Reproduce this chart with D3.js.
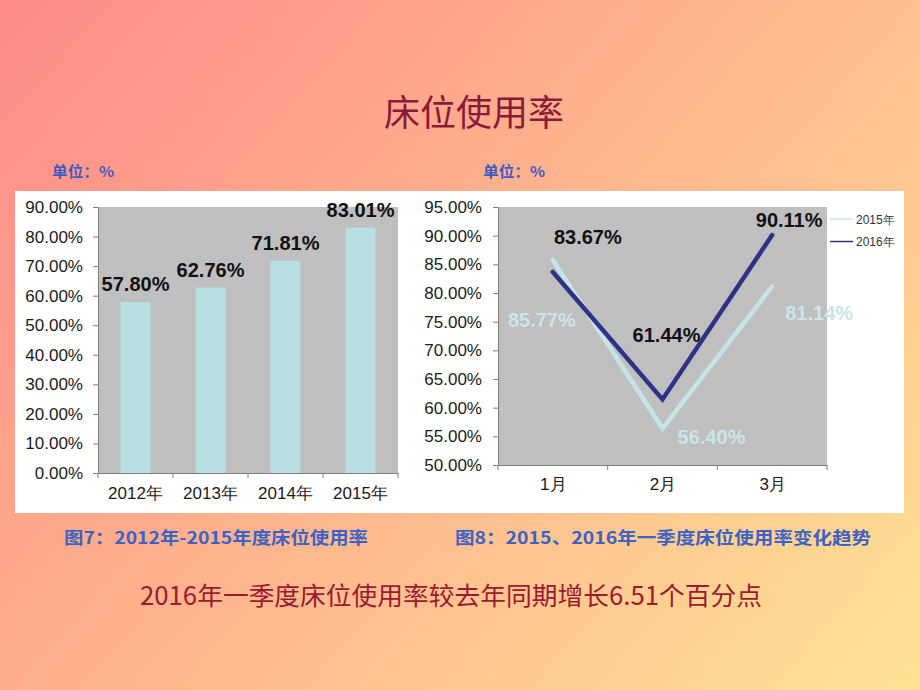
<!DOCTYPE html>
<html><head><meta charset="utf-8">
<script src="https://cdn.jsdelivr.net/npm/d3@7"></script>
<style>body{margin:0;}svg{display:block;}</style>
</head><body>
<svg id="c" width="920" height="690"></svg>
<script>
// ---- data ----
const barYears = ["2012年", "2013年", "2014年", "2015年"];
const barValues = [0.5780, 0.6276, 0.7181, 0.8301];
const barTicks = [0, 0.1, 0.2, 0.3, 0.4, 0.5, 0.6, 0.7, 0.8, 0.9];

const months = ["1月", "2月", "3月"];
const seriesNames = ["2015年", "2016年"];
const values2015 = [0.8577, 0.5640, 0.8114];
const values2016 = [0.8367, 0.6144, 0.9011];
const lineTicks = [0.5, 0.55, 0.6, 0.65, 0.7, 0.75, 0.8, 0.85, 0.9, 0.95];

const titleText = "床位使用率";
const unitText = "单位：%";
const caption1 = "图7：2012年-2015年度床位使用率";
const caption2 = "图8：2015、2016年一季度床位使用率变化趋势";
const footText = "2016年一季度床位使用率较去年同期增长6.51个百分点";

// ---- drawing ----
const svg = d3.select("#c");
const fmt = d3.format(".2%");
const NUM = "'Liberation Sans', Arial, sans-serif";
const CJK = "'Noto Sans CJK SC', 'Noto Sans', sans-serif";

const defs = svg.append("defs");
const g = defs.append("linearGradient").attr("id","bg")
  .attr("gradientUnits","userSpaceOnUse")
  .attr("x1",0).attr("y1",0).attr("x2",857).attr("y2",762);
g.append("stop").attr("offset",0).attr("stop-color","#ff8a88");
g.append("stop").attr("offset",1).attr("stop-color","#ffe294");
svg.append("rect").attr("width",920).attr("height",690).attr("fill","url(#bg)");

// title
svg.append("text").attr("x",474).attr("y",126).attr("text-anchor","middle")
  .attr("font-family",CJK).attr("font-size",36).attr("fill","#8a1a3a").text(titleText);

// unit labels
[52, 483].forEach(x => {
  svg.append("text").attr("x",x).attr("y",176.5)
    .attr("font-family",CJK).attr("font-size",15).attr("font-weight","bold")
    .attr("fill","#3d5bc4").attr("textLength",62).attr("lengthAdjust","spacingAndGlyphs")
    .text(unitText);
});

// white panel
svg.append("rect").attr("x",15).attr("y",191).attr("width",889).attr("height",322).attr("fill","#ffffff");

// ---------- bar chart ----------
const L = {x0:98, x1:398, y0:207, y1:473};
const xb = d3.scaleBand().domain(barYears).range([L.x0, L.x1]).paddingInner(0.6).paddingOuter(0.3);
const yb = d3.scaleLinear().domain([0, 0.9]).range([L.y1, L.y0]);
svg.append("rect").attr("x",L.x0).attr("y",L.y0).attr("width",L.x1-L.x0).attr("height",L.y1-L.y0).attr("fill","#bfbfbf");

svg.selectAll(".bar").data(barValues).enter().append("rect")
  .attr("x",(d,i)=>xb(barYears[i])).attr("width",xb.bandwidth())
  .attr("y",d=>yb(d)).attr("height",d=>yb(0)-yb(d)).attr("fill","#b8dfe2");

svg.selectAll(".blab").data(barValues).enter().append("text")
  .attr("x",(d,i)=>xb(barYears[i])+xb.bandwidth()/2).attr("y",d=>yb(d)-11)
  .attr("text-anchor","middle").attr("font-family",NUM).attr("font-weight","bold")
  .attr("font-size",20).attr("fill","#111").text(d=>fmt(d));

const yAxL = svg.append("g").attr("transform",`translate(${L.x0},0)`)
  .call(d3.axisLeft(yb).tickValues(barTicks).tickFormat(fmt).tickSize(5).tickPadding(10).tickSizeOuter(0));
const xAxL = svg.append("g").attr("transform",`translate(0,${L.y1})`)
  .call(d3.axisBottom(xb).tickSize(0).tickPadding(14).tickSizeOuter(0));
// category boundary ticks
const stepL = xb.step();
svg.append("g").selectAll("line").data(d3.range(barYears.length+1)).enter().append("line")
  .attr("x1",i=>L.x0+i*stepL).attr("x2",i=>L.x0+i*stepL)
  .attr("y1",L.y1).attr("y2",L.y1+5).attr("stroke","#7f7f7f");

// ---------- line chart ----------
const R = {x0:498, x1:827, y0:207, y1:465};
const xl = d3.scalePoint().domain(months).range([R.x0, R.x1]).padding(0.5);
const yl = d3.scaleLinear().domain([0.5, 0.95]).range([R.y1, R.y0]);
svg.append("rect").attr("x",R.x0).attr("y",R.y0).attr("width",R.x1-R.x0).attr("height",R.y1-R.y0).attr("fill","#bfbfbf");

const line = d3.line().x((d,i)=>xl(months[i])).y(d=>yl(d));
const colors = ["#c6e4e7", "#2f3287"];
const series = [values2015, values2016];
series.forEach((s,k)=>{
  svg.append("path").datum(s).attr("d",line).attr("fill","none")
    .attr("stroke",colors[k]).attr("stroke-width",4.5)
    .attr("stroke-linejoin","miter").attr("stroke-linecap","round");
});

const yAxR = svg.append("g").attr("transform",`translate(${R.x0},0)`)
  .call(d3.axisLeft(yl).tickValues(lineTicks).tickFormat(fmt).tickSize(5).tickPadding(11).tickSizeOuter(0));
const xAxR = svg.append("g").attr("transform",`translate(0,${R.y1})`)
  .call(d3.axisBottom(xl).tickSize(0).tickPadding(13).tickSizeOuter(0));
const stepR = xl.step();
svg.append("g").selectAll("line").data(d3.range(months.length+1)).enter().append("line")
  .attr("x1",i=>R.x0+i*stepR).attr("x2",i=>R.x0+i*stepR)
  .attr("y1",R.y1).attr("y2",R.y1+5).attr("stroke","#7f7f7f");

// data labels (offsets are label placement only)
const off2016 = [[35,-28],[4,-57],[17,-8]];
const off2015 = [[-11,67],[49,16],[47,34]];
svg.selectAll(".l15").data(values2015).enter().append("text")
  .attr("x",(d,i)=>xl(months[i])+off2015[i][0]).attr("y",(d,i)=>yl(d)+off2015[i][1])
  .attr("text-anchor","middle").attr("font-family",NUM).attr("font-weight","bold")
  .attr("font-size",20).attr("fill","#c9e5e8").text(d=>fmt(d));
svg.selectAll(".l16").data(values2016).enter().append("text")
  .attr("x",(d,i)=>xl(months[i])+off2016[i][0]).attr("y",(d,i)=>yl(d)+off2016[i][1])
  .attr("text-anchor","middle").attr("font-family",NUM).attr("font-weight","bold")
  .attr("font-size",20).attr("fill","#111").text(d=>fmt(d));

// legend
const leg = svg.append("g");
seriesNames.forEach((n,k)=>{
  const y = 219 + k*22.5;
  leg.append("line").attr("x1",830).attr("x2",853).attr("y1",y).attr("y2",y)
    .attr("stroke",k===0?"#d2e3ea":"#2f3287").attr("stroke-width",1.5);
  leg.append("text").attr("x",856).attr("y",y+4.5).attr("font-family",NUM)
    .attr("font-size",12).attr("fill","#333").text(n);
});

// axis styling
[yAxL,xAxL,yAxR,xAxR].forEach(a=>{
  a.select(".domain").attr("stroke","#7f7f7f");
  a.selectAll(".tick line").attr("stroke","#7f7f7f");
  a.selectAll(".tick text").attr("font-family",NUM).attr("font-size",17).attr("fill","#1a1a1a");
});

// captions
svg.append("text").attr("x",64).attr("y",543.5).attr("font-family",CJK).attr("font-weight","bold")
  .attr("font-size",17).attr("fill","#3d62c4").attr("textLength",304).attr("lengthAdjust","spacingAndGlyphs").text(caption1);
svg.append("text").attr("x",455).attr("y",543.5).attr("font-family",CJK).attr("font-weight","bold")
  .attr("font-size",17).attr("fill","#3d62c4").attr("textLength",416).attr("lengthAdjust","spacingAndGlyphs").text(caption2);

svg.append("text").attr("x",140).attr("y",605).attr("font-family",CJK)
  .attr("font-size",25.5).attr("fill","#9a1a30").attr("textLength",622).attr("lengthAdjust","spacingAndGlyphs").text(footText);
</script>
</body></html>
